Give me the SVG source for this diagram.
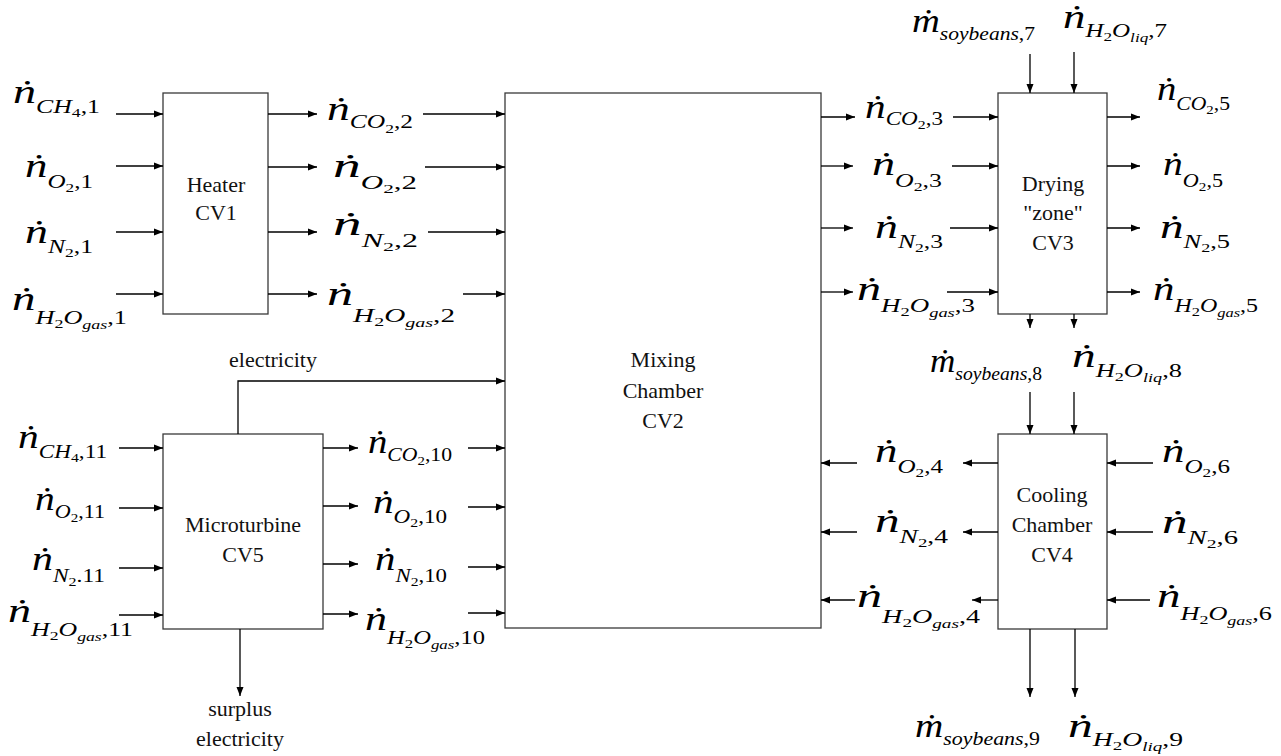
<svg xmlns="http://www.w3.org/2000/svg" width="1281" height="756" viewBox="0 0 1281 756">
<defs>
<marker id="ah" markerUnits="userSpaceOnUse" markerWidth="10" markerHeight="8" refX="9" refY="4" orient="auto"><path d="M0,0.5 L9,4 L0,7.5 z" fill="#000"/></marker>
<style>
text{font-family:'Liberation Serif','Times New Roman',serif}
.box{fill:#fff;stroke:#3a3a3a;stroke-width:1.3}
.ln{fill:none;stroke:#000;stroke-width:1.3;marker-end:url(#ah)}
.lbl{font-size:22px;fill:#111;text-anchor:middle}
.m{font-style:italic;font-size:19px;fill:#000}
.big{font-size:34px}
.ss{font-size:13px;font-style:normal}
.si{font-size:13px}
.r{font-style:normal}
</style>
</defs>
<rect width="1281" height="756" fill="#fff"/>

<g id="heater"><rect class="box" x="163" y="93" width="105" height="221"/><text class="lbl" x="216" y="192">Heater</text><text class="lbl" x="216" y="220">CV1</text></g>
<g id="mixing"><rect class="box" x="505" y="93" width="316" height="535"/><text class="lbl" x="663" y="367">Mixing</text><text class="lbl" x="663" y="398">Chamber</text><text class="lbl" x="663" y="428">CV2</text></g>
<g id="drying"><rect class="box" x="998" y="93" width="109" height="221"/><text class="lbl" x="1053" y="191">Drying</text><text class="lbl" x="1053" y="220">"zone"</text><text class="lbl" x="1053" y="250">CV3</text></g>
<g id="cooling"><rect class="box" x="998" y="434" width="109" height="195"/><text class="lbl" x="1052" y="502">Cooling</text><text class="lbl" x="1052" y="532">Chamber</text><text class="lbl" x="1052" y="562">CV4</text></g>
<g id="microturbine"><rect class="box" x="163" y="434" width="160" height="195"/><text class="lbl" x="243" y="532">Microturbine</text><text class="lbl" x="243" y="562">CV5</text></g>

<g id="connectors">
<path class="ln" d="M116,114H163"/><path class="ln" d="M116,166H163"/><path class="ln" d="M116,232H163"/><path class="ln" d="M116,294H163"/>
<path class="ln" d="M268,114H317"/><path class="ln" d="M268,167H317"/><path class="ln" d="M268,232H317"/><path class="ln" d="M268,294H317"/>
<path class="ln" d="M423,114H505"/><path class="ln" d="M425,167H505"/><path class="ln" d="M428,232H505"/><path class="ln" d="M463,294H505"/>
<path class="ln" d="M238,434V381H505"/>
<path class="ln" d="M119,448H163"/><path class="ln" d="M119,508H163"/><path class="ln" d="M119,568H163"/><path class="ln" d="M119,615H163"/>
<path class="ln" d="M323,448H358"/><path class="ln" d="M323,506H358"/><path class="ln" d="M323,564H358"/><path class="ln" d="M323,614H358"/>
<path class="ln" d="M468,448H505"/><path class="ln" d="M468,507H505"/><path class="ln" d="M468,567H505"/><path class="ln" d="M468,613H505"/>
<path class="ln" d="M240,629V696"/>
<path class="ln" d="M821,117H855"/><path class="ln" d="M821,166H853"/><path class="ln" d="M821,228H853"/><path class="ln" d="M821,292H853"/>
<path class="ln" d="M953,117H998"/><path class="ln" d="M952,166H998"/><path class="ln" d="M950,228H998"/><path class="ln" d="M947,292H998"/>
<path class="ln" d="M1107,117H1140"/><path class="ln" d="M1107,166H1140"/><path class="ln" d="M1107,228H1140"/><path class="ln" d="M1107,292H1140"/>
<path class="ln" d="M1030,54V93"/><path class="ln" d="M1074,52V93"/>
<path class="ln" d="M1030,314V328"/><path class="ln" d="M1074,314V328"/>
<path class="ln" d="M1030,392V434"/><path class="ln" d="M1074,392V434"/>
<path class="ln" d="M998,463H963"/><path class="ln" d="M998,532H963"/><path class="ln" d="M998,600H972"/>
<path class="ln" d="M857,463H821"/><path class="ln" d="M857,532H821"/><path class="ln" d="M855,600H821"/>
<path class="ln" d="M1153,463H1107"/><path class="ln" d="M1153,532H1107"/><path class="ln" d="M1150,600H1107"/>
<path class="ln" d="M1030,629V697"/><path class="ln" d="M1075,629V697"/>
</g>

<g id="labels">
<text class="lbl" x="273" y="367">electricity</text>
<text class="lbl" x="240" y="716">surplus</text>
<text class="lbl" x="240" y="746">electricity</text>

<text class="m" x="13" y="103" textLength="87" lengthAdjust="spacingAndGlyphs"><tspan class="big">n&#x307;</tspan><tspan dy="10">CH</tspan><tspan class="ss" dy="4">4</tspan><tspan class="r" dy="-4">,1</tspan></text>
<text class="m" x="25" y="177" textLength="68" lengthAdjust="spacingAndGlyphs"><tspan class="big">n&#x307;</tspan><tspan dy="11">O</tspan><tspan class="ss" dy="4">2</tspan><tspan class="r" dy="-4">,1</tspan></text>
<text class="m" x="25" y="243" textLength="68" lengthAdjust="spacingAndGlyphs"><tspan class="big">n&#x307;</tspan><tspan dy="10">N</tspan><tspan class="ss" dy="4">2</tspan><tspan class="r" dy="-4">,1</tspan></text>
<text class="m" x="12" y="310" textLength="115" lengthAdjust="spacingAndGlyphs"><tspan class="big">n&#x307;</tspan><tspan dy="14">H</tspan><tspan class="ss" dy="4">2</tspan><tspan dy="-4">O</tspan><tspan class="si" dy="5">gas</tspan><tspan class="r" dy="-5">,1</tspan></text>

<text class="m" x="327" y="120" textLength="86" lengthAdjust="spacingAndGlyphs"><tspan class="big">n&#x307;</tspan><tspan dy="8">CO</tspan><tspan class="ss" dy="5">2</tspan><tspan class="r" dy="-5">,2</tspan></text>
<text class="m" x="333" y="177" textLength="84" lengthAdjust="spacingAndGlyphs"><tspan class="big">n&#x307;</tspan><tspan dy="12">O</tspan><tspan class="ss" dy="4">2</tspan><tspan class="r" dy="-4">,2</tspan></text>
<text class="m" x="333" y="235" textLength="85" lengthAdjust="spacingAndGlyphs"><tspan class="big">n&#x307;</tspan><tspan dy="12">N</tspan><tspan class="ss" dy="4">2</tspan><tspan class="r" dy="-4">,2</tspan></text>
<text class="m" x="327" y="305" textLength="128" lengthAdjust="spacingAndGlyphs"><tspan class="big">n&#x307;</tspan><tspan dy="17">H</tspan><tspan class="ss" dy="4">2</tspan><tspan dy="-4">O</tspan><tspan class="si" dy="5">gas</tspan><tspan class="r" dy="-5">,2</tspan></text>

<text class="m" x="18" y="448" textLength="89" lengthAdjust="spacingAndGlyphs"><tspan class="big">n&#x307;</tspan><tspan dy="10">CH</tspan><tspan class="ss" dy="4">4</tspan><tspan class="r" dy="-4">,11</tspan></text>
<text class="m" x="35" y="510" textLength="70" lengthAdjust="spacingAndGlyphs"><tspan class="big">n&#x307;</tspan><tspan dy="8">O</tspan><tspan class="ss" dy="4">2</tspan><tspan class="r" dy="-4">,11</tspan></text>
<text class="m" x="32" y="570" textLength="73" lengthAdjust="spacingAndGlyphs"><tspan class="big">n&#x307;</tspan><tspan dy="12">N</tspan><tspan class="ss" dy="4">2</tspan><tspan class="r" dy="-4">.11</tspan></text>
<text class="m" x="8" y="622" textLength="125" lengthAdjust="spacingAndGlyphs"><tspan class="big">n&#x307;</tspan><tspan dy="14">H</tspan><tspan class="ss" dy="4">2</tspan><tspan dy="-4">O</tspan><tspan class="si" dy="5">gas</tspan><tspan class="r" dy="-5">,11</tspan></text>

<text class="m" x="368" y="453" textLength="84" lengthAdjust="spacingAndGlyphs"><tspan class="big">n&#x307;</tspan><tspan dy="8">CO</tspan><tspan class="ss" dy="4">2</tspan><tspan class="r" dy="-4">,10</tspan></text>
<text class="m" x="373" y="513" textLength="74" lengthAdjust="spacingAndGlyphs"><tspan class="big">n&#x307;</tspan><tspan dy="10">O</tspan><tspan class="ss" dy="4">2</tspan><tspan class="r" dy="-4">,10</tspan></text>
<text class="m" x="375" y="570" textLength="72" lengthAdjust="spacingAndGlyphs"><tspan class="big">n&#x307;</tspan><tspan dy="12">N</tspan><tspan class="ss" dy="4">2</tspan><tspan class="r" dy="-4">,10</tspan></text>
<text class="m" x="365" y="630" textLength="120" lengthAdjust="spacingAndGlyphs"><tspan class="big">n&#x307;</tspan><tspan dy="14">H</tspan><tspan class="ss" dy="4">2</tspan><tspan dy="-4">O</tspan><tspan class="si" dy="5">gas</tspan><tspan class="r" dy="-5">,10</tspan></text>

<text class="m" x="865" y="118" textLength="78" lengthAdjust="spacingAndGlyphs"><tspan class="big">n&#x307;</tspan><tspan dy="7">CO</tspan><tspan class="ss" dy="4">2</tspan><tspan class="r" dy="-4">,3</tspan></text>
<text class="m" x="872" y="175" textLength="70" lengthAdjust="spacingAndGlyphs"><tspan class="big">n&#x307;</tspan><tspan dy="12">O</tspan><tspan class="ss" dy="4">2</tspan><tspan class="r" dy="-4">,3</tspan></text>
<text class="m" x="875" y="238" textLength="68" lengthAdjust="spacingAndGlyphs"><tspan class="big">n&#x307;</tspan><tspan dy="10">N</tspan><tspan class="ss" dy="4">2</tspan><tspan class="r" dy="-4">,3</tspan></text>
<text class="m" x="857" y="300" textLength="118" lengthAdjust="spacingAndGlyphs"><tspan class="big">n&#x307;</tspan><tspan dy="12">H</tspan><tspan class="ss" dy="4">2</tspan><tspan dy="-4">O</tspan><tspan class="si" dy="5">gas</tspan><tspan class="r" dy="-5">,3</tspan></text>

<text class="m" x="1157" y="100" textLength="73" lengthAdjust="spacingAndGlyphs"><tspan class="big">n&#x307;</tspan><tspan dy="10">CO</tspan><tspan class="ss" dy="4">2</tspan><tspan class="r" dy="-4">,5</tspan></text>
<text class="m" x="1163" y="175" textLength="60" lengthAdjust="spacingAndGlyphs"><tspan class="big">n&#x307;</tspan><tspan dy="12">O</tspan><tspan class="ss" dy="4">2</tspan><tspan class="r" dy="-4">,5</tspan></text>
<text class="m" x="1160" y="238" textLength="70" lengthAdjust="spacingAndGlyphs"><tspan class="big">n&#x307;</tspan><tspan dy="10">N</tspan><tspan class="ss" dy="4">2</tspan><tspan class="r" dy="-4">,5</tspan></text>
<text class="m" x="1153" y="300" textLength="105" lengthAdjust="spacingAndGlyphs"><tspan class="big">n&#x307;</tspan><tspan dy="12">H</tspan><tspan class="ss" dy="4">2</tspan><tspan dy="-4">O</tspan><tspan class="si" dy="5">gas</tspan><tspan class="r" dy="-5">,5</tspan></text>

<text class="m" x="912" y="32" textLength="123" lengthAdjust="spacingAndGlyphs"><tspan class="big">m&#x307;</tspan><tspan dy="8">soybeans</tspan><tspan class="r">,7</tspan></text>
<text class="m" x="1063" y="28" textLength="104" lengthAdjust="spacingAndGlyphs"><tspan class="big">n&#x307;</tspan><tspan dy="9">H</tspan><tspan class="ss" dy="4">2</tspan><tspan dy="-4">O</tspan><tspan class="si" dy="5">liq</tspan><tspan class="r" dy="-5">,7</tspan></text>
<text class="m" x="930" y="372" textLength="112" lengthAdjust="spacingAndGlyphs"><tspan class="big">m&#x307;</tspan><tspan dy="8">soybeans</tspan><tspan class="r">,8</tspan></text>
<text class="m" x="1072" y="367" textLength="110" lengthAdjust="spacingAndGlyphs"><tspan class="big">n&#x307;</tspan><tspan dy="10">H</tspan><tspan class="ss" dy="4">2</tspan><tspan dy="-4">O</tspan><tspan class="si" dy="5">liq</tspan><tspan class="r" dy="-5">,8</tspan></text>

<text class="m" x="875" y="462" textLength="68" lengthAdjust="spacingAndGlyphs"><tspan class="big">n&#x307;</tspan><tspan dy="11">O</tspan><tspan class="ss" dy="4">2</tspan><tspan class="r" dy="-4">,4</tspan></text>
<text class="m" x="875" y="532" textLength="73" lengthAdjust="spacingAndGlyphs"><tspan class="big">n&#x307;</tspan><tspan dy="11">N</tspan><tspan class="ss" dy="4">2</tspan><tspan class="r" dy="-4">,4</tspan></text>
<text class="m" x="857" y="607" textLength="123" lengthAdjust="spacingAndGlyphs"><tspan class="big">n&#x307;</tspan><tspan dy="16">H</tspan><tspan class="ss" dy="4">2</tspan><tspan dy="-4">O</tspan><tspan class="si" dy="5">gas</tspan><tspan class="r" dy="-5">,4</tspan></text>
<text class="m" x="1162" y="462" textLength="68" lengthAdjust="spacingAndGlyphs"><tspan class="big">n&#x307;</tspan><tspan dy="11">O</tspan><tspan class="ss" dy="4">2</tspan><tspan class="r" dy="-4">,6</tspan></text>
<text class="m" x="1162" y="533" textLength="76" lengthAdjust="spacingAndGlyphs"><tspan class="big">n&#x307;</tspan><tspan dy="11">N</tspan><tspan class="ss" dy="4">2</tspan><tspan class="r" dy="-4">,6</tspan></text>
<text class="m" x="1157" y="607" textLength="115" lengthAdjust="spacingAndGlyphs"><tspan class="big">n&#x307;</tspan><tspan dy="13">H</tspan><tspan class="ss" dy="4">2</tspan><tspan dy="-4">O</tspan><tspan class="si" dy="5">gas</tspan><tspan class="r" dy="-5">,6</tspan></text>

<text class="m" x="915" y="737" textLength="125" lengthAdjust="spacingAndGlyphs"><tspan class="big">m&#x307;</tspan><tspan dy="8">soybeans</tspan><tspan class="r">,9</tspan></text>
<text class="m" x="1068" y="737" textLength="115" lengthAdjust="spacingAndGlyphs"><tspan class="big">n&#x307;</tspan><tspan dy="9">H</tspan><tspan class="ss" dy="4">2</tspan><tspan dy="-4">O</tspan><tspan class="si" dy="5">liq</tspan><tspan class="r" dy="-5">,9</tspan></text>
</g>
</svg>
